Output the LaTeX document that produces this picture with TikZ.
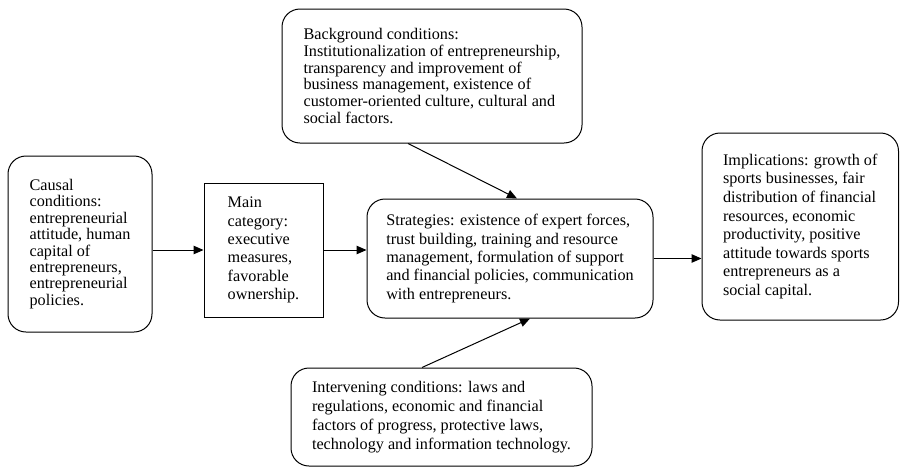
\documentclass[tikz,border=0pt]{standalone}
\usepackage{fontspec}
\setmainfont{Liberation Serif}
\usetikzlibrary{arrows.meta}

\tikzset{
  textfont/.style={font=\fontsize{16.2}{#1}\selectfont},
  textfont/.default=16.7,
  condbox/.style={draw, line width=1pt, rounded corners=18pt, align=left, inner sep=2pt, textfont},
  catbox/.style={draw, line width=1pt, align=left, inner sep=2pt, textfont},
  flow/.style={-{Triangle[length=10pt,width=8.5pt]}, line width=1pt}
}

\begin{document}
\begin{tikzpicture}[x=1pt,y=-1pt]
\useasboundingbox (0,0) rectangle (900,469);
% the six boxes
\node[condbox, textfont=16.4, minimum width=144pt, minimum height=176pt] (causal) at (80,244)
  {Causal\\conditions:\\entrepreneurial\\attitude, human\\capital of\\entrepreneurs,\\entrepreneurial\\policies.};
\node[catbox, textfont=18.3, minimum width=119pt, minimum height=134pt] (main) at (263.5,250)
  {Main\\category:\\executive\\measures,\\favorable\\ownership.};
\node[condbox, textfont=16.7, minimum width=300pt, minimum height=134pt] (bg) at (432,76)
  {Background conditions:\\Institutionalization of entrepreneurship,\\transparency and improvement of\\business management, existence of\\customer-oriented culture, cultural and\\social factors.};
\node[condbox, textfont=18.3, minimum width=286pt, minimum height=119pt] (strat) at (510,258.5)
  {Strategies: existence of expert forces,\\trust building, training and resource\\management, formulation of support\\and financial policies, communication\\with entrepreneurs.};
\node[condbox, textfont=18.6, minimum width=196.5pt, minimum height=187pt] (impl) at (800.25,226.5)
  {Implications: growth of\\sports businesses, fair\\distribution of financial\\resources, economic\\productivity, positive\\attitude towards sports\\entrepreneurs as a\\social capital.};
\node[condbox, textfont=19, minimum width=301pt, minimum height=98pt] (inter) at (441.5,417)
  {Intervening conditions: laws and\\regulations, economic and financial\\factors of progress, protective laws,\\technology and information technology.};
% arrows
\draw[flow] (causal.east |- main.west) -- (main.west);
\draw[flow] (main.east) -- (main.east -| strat.west);
\draw[flow] (strat.east) -- (strat.east -| impl.west);
\draw[flow] ([xshift=-24pt]bg.south) -- ([xshift=7pt]strat.north);
\draw[flow] ([xshift=-19.5pt]inter.north) -- ([xshift=20pt]strat.south);
\end{tikzpicture}
\end{document}
